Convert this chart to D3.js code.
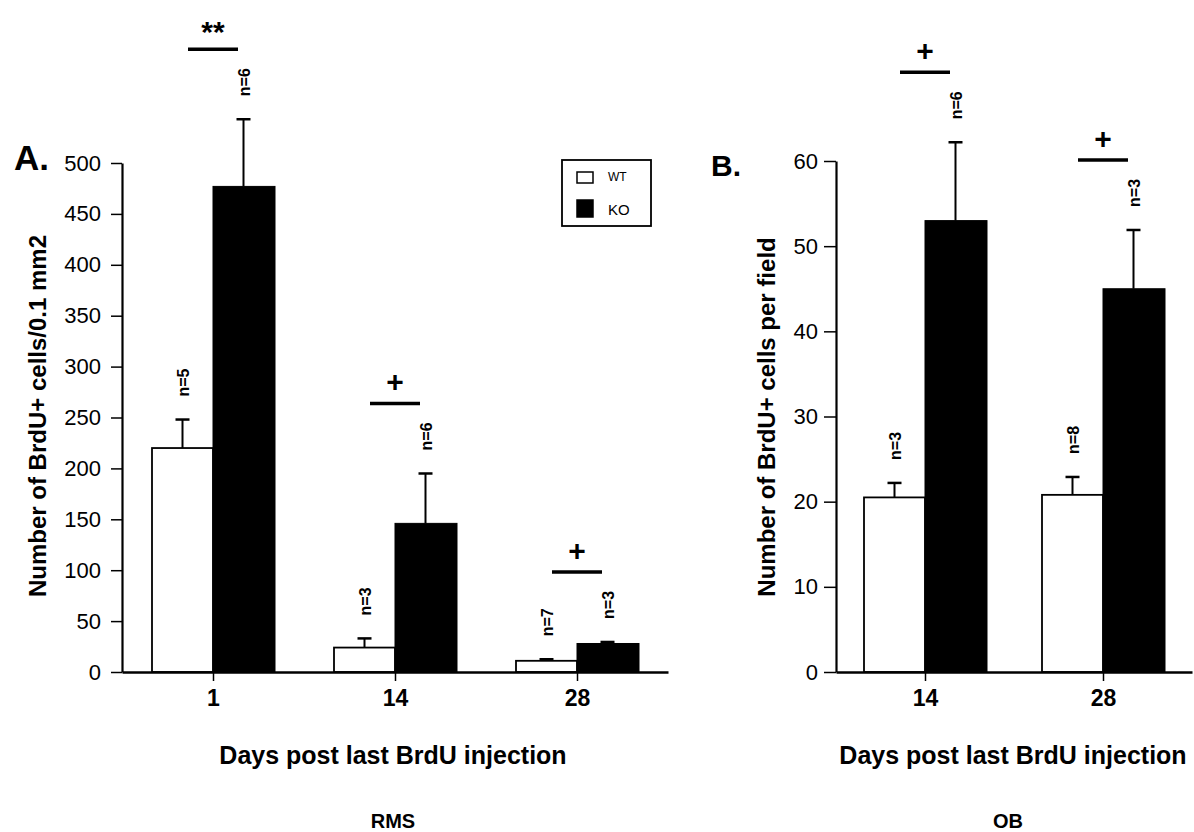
<!DOCTYPE html>
<html>
<head>
<meta charset="utf-8">
<script src="https://cdn.jsdelivr.net/npm/d3@7"></script>
<style>
  html, body { margin: 0; padding: 0; background: #fff; }
  svg { display: block; }
  text { font-family: "Liberation Sans", Arial, Helvetica, sans-serif; fill: #000; }
</style>
</head>
<body>
<svg id="chart" width="1194" height="832"></svg>
<script>
// Panel A: RMS, BrdU+ cells per 0.1 mm2
const daysA = [1, 14, 28];
const wtA = [220, 24, 11];
const wtErrA = [28, 9, 1.5];
const koA = [477, 146, 28];
const koErrA = [66, 49, 1.5];
const wtNA = [5, 3, 7];
const koNA = [6, 6, 3];
const sigA = ["**", "+", "+"];
const ticksA = [0, 50, 100, 150, 200, 250, 300, 350, 400, 450, 500];

// Panel B: OB, BrdU+ cells per field
const daysB = [14, 28];
const wtB = [20.5, 20.8];
const wtErrB = [1.7, 2.1];
const koB = [53, 45];
const koErrB = [9.2, 6.9];
const wtNB = [3, 8];
const koNB = [6, 3];
const sigB = ["+", "+"];
const ticksB = [0, 10, 20, 30, 40, 50, 60];

const legendItems = [
  { key: "WT", fill: "#fff", size: 12 },
  { key: "KO", fill: "#000", size: 15 }
];

const svg = d3.select("#chart");
const barW = 61;
const capW = 14;

function panel(opts) {
  const g = svg.append("g");
  const x = d3.scalePoint().domain(opts.days).range(opts.xRange).padding(0.5);
  const y = d3.scaleLinear().domain(opts.yDomain).range(opts.yRange);

  const rows = opts.days.map((d, i) => ({
    day: d, wt: opts.wt[i], wtErr: opts.wtErr[i], ko: opts.ko[i], koErr: opts.koErr[i],
    wtN: opts.wtN[i], koN: opts.koN[i], sig: opts.sig[i]
  }));

  const grp = g.selectAll("g.grp").data(rows).join("g").attr("class", "grp");

  // error bars (upper only)
  function errBar(sel, cx, mean, err) {
    sel.append("line")
      .attr("x1", cx).attr("x2", cx)
      .attr("y1", y(mean)).attr("y2", y(mean + err))
      .attr("stroke", "#000").attr("stroke-width", 2);
    sel.append("line")
      .attr("x1", cx - capW / 2).attr("x2", cx + capW / 2)
      .attr("y1", y(mean + err)).attr("y2", y(mean + err))
      .attr("stroke", "#000").attr("stroke-width", 2.5);
  }

  grp.each(function (d) {
    const s = d3.select(this);
    const c = x(d.day);
    errBar(s, c - barW / 2, d.wt, d.wtErr);
    errBar(s, c + barW / 2, d.ko, d.koErr);
    s.append("rect")
      .attr("x", c - barW).attr("y", y(d.wt))
      .attr("width", barW).attr("height", y(0) - y(d.wt))
      .attr("fill", "#fff").attr("stroke", "#000").attr("stroke-width", 1.8);
    s.append("rect")
      .attr("x", c).attr("y", y(d.ko))
      .attr("width", barW + 1).attr("height", y(0) - y(d.ko))
      .attr("fill", "#000").attr("stroke", "#000").attr("stroke-width", 1);

    // sample sizes, rotated
    const nLab = (cx, top, n) => {
      s.append("text")
        .attr("transform", `translate(${cx + 6},${top - 23}) rotate(-90)`)
        .attr("font-size", 16).attr("font-weight", "bold")
        .attr("text-anchor", "start")
        .text("n=" + n);
    };
    nLab(c - barW / 2, y(d.wt + d.wtErr), d.wtN);
    nLab(c + barW / 2, y(d.ko + d.koErr), d.koN);

    // significance bar and symbol
    const ly = y(d.ko + d.koErr) - 70;
    s.append("line")
      .attr("x1", c - 25).attr("x2", c + 25)
      .attr("y1", ly).attr("y2", ly)
      .attr("stroke", "#000").attr("stroke-width", 3.5);
    s.append("text")
      .attr("x", c).attr("y", d.sig === "**" ? ly - 7 : ly - 11)
      .attr("text-anchor", "middle")
      .attr("font-size", 30).attr("font-weight", "bold")
      .text(d.sig);
  });

  // y axis
  const yAxis = g.append("g")
    .attr("transform", `translate(${opts.xRange[0]},0)`)
    .call(d3.axisLeft(y).tickValues(opts.yTicks).tickSize(opts.tickLen).tickPadding(opts.tickPad).tickSizeOuter(0));
  yAxis.select(".domain").attr("stroke-width", 2.2);
  yAxis.selectAll(".tick line").attr("stroke-width", 1.5);
  yAxis.selectAll(".tick text")
    .attr("font-size", 22).attr("font-family", "'Liberation Sans', Arial, sans-serif");

  // x axis
  const xAxis = g.append("g")
    .attr("transform", `translate(0,${y(0)})`)
    .call(d3.axisBottom(x).tickSize(9).tickPadding(9).tickSizeOuter(0));
  xAxis.select(".domain").attr("stroke-width", 2.5);
  xAxis.selectAll(".tick line").attr("stroke-width", 1.5);
  xAxis.selectAll(".tick text")
    .attr("font-size", 23).attr("font-weight", "bold")
    .attr("font-family", "'Liberation Sans', Arial, sans-serif");

  // axis titles
  g.append("text")
    .attr("transform", `translate(${opts.yTitleX},${opts.yTitleY}) rotate(-90)`)
    .attr("text-anchor", "middle").attr("dominant-baseline", "central")
    .attr("font-size", 24).attr("font-weight", "bold")
    .text(opts.yTitle);

  g.append("text")
    .attr("x", opts.xTitleX).attr("y", 764)
    .attr("text-anchor", "middle")
    .attr("font-size", 25).attr("font-weight", "bold")
    .text("Days post last BrdU injection");

  g.append("text")
    .attr("x", opts.regionX).attr("y", 828)
    .attr("text-anchor", "middle")
    .attr("font-size", 20).attr("font-weight", "bold")
    .text(opts.region);

  g.append("text")
    .attr("x", opts.panelX).attr("y", opts.panelY)
    .attr("font-size", opts.panelSize).attr("font-weight", "900")
    .text(opts.panel);

  return { x, y, g };
}

panel({
  days: daysA, wt: wtA, wtErr: wtErrA, ko: koA, koErr: koErrA,
  wtN: wtNA, koN: koNA, sig: sigA,
  xRange: [122, 668], yDomain: [0, 500], yRange: [672, 163], yTicks: ticksA,
  tickLen: 11, tickPad: 10,
  yTitle: "Number of BrdU+ cells/0.1 mm2", yTitleX: 37, yTitleY: 416,
  xTitleX: 393, region: "RMS", regionX: 393,
  panel: "A.", panelX: 14, panelY: 170, panelSize: 35
});

panel({
  days: daysB, wt: wtB, wtErr: wtErrB, ko: koB, koErr: koErrB,
  wtN: wtNB, koN: koNB, sig: sigB,
  xRange: [836, 1192], yDomain: [0, 60], yRange: [672, 161], yTicks: ticksB,
  tickLen: 12, tickPad: 6,
  yTitle: "Number of BrdU+ cells per field", yTitleX: 766, yTitleY: 417,
  xTitleX: 1013, region: "OB", regionX: 1008,
  panel: "B.", panelX: 711, panelY: 176, panelSize: 30
});

// legend
const leg = svg.append("g").attr("transform", "translate(562,160)");
leg.append("rect").attr("width", 89).attr("height", 66)
  .attr("fill", "#fff").attr("stroke", "#000").attr("stroke-width", 1.8);
const li = leg.selectAll("g.item").data(legendItems).join("g")
  .attr("class", "item")
  .attr("transform", (d, i) => `translate(15,${12 + i * 28})`);
li.append("rect").attr("width", 16).attr("height", (d, i) => i ? 17 : 11)
  .attr("fill", d => d.fill).attr("stroke", "#000").attr("stroke-width", 1.5);
li.append("text").attr("x", 31).attr("y", (d, i) => i ? 15 : 9)
  .attr("font-size", d => d.size).text(d => d.key);
</script>
</body>
</html>
